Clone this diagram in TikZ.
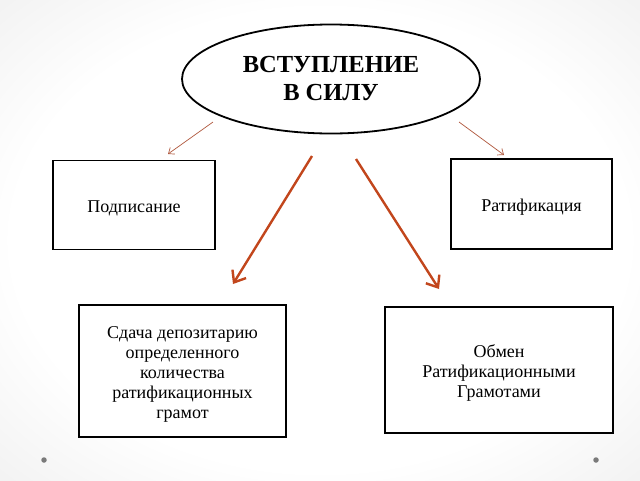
\documentclass[tikz,border=0pt]{standalone}
\usepackage{fontspec}
\setmainfont{Liberation Serif}
\usetikzlibrary{shapes.geometric,arrows.meta}
\definecolor{thinred}{HTML}{B0583E}
\definecolor{thickred}{HTML}{C2461C}
\definecolor{dotgray}{HTML}{7A7A7A}
\pgfdeclareradialshading{bgshade}{\pgfpoint{0bp}{0bp}}{color(0bp)=(white); color(24bp)=(white); color(45bp)=(black!9); color(72bp)=(black!19)}
\tikzset{
  box/.style={draw=black,line width=1.8pt,fill=white,align=center,font=\fontsize{18}{20}\selectfont,inner sep=0pt},
  ell/.style={ellipse,draw=black,line width=1.8pt,fill=white,align=center,inner sep=0pt,font=\bfseries\fontsize{24.5}{28}\selectfont},
  thinarrow/.style={draw=thinred,line width=0.7pt,-{Straight Barb[length=5pt,width=8pt]}},
  thickarrow/.style={draw=thickred,line width=2.4pt,-{Straight Barb[length=10pt,width=16pt,line width=2.4pt]}},
  dot/.style={circle,fill=dotgray,inner sep=0pt,minimum size=5.5pt}
}
\newcommand{\dn}{\rule{0pt}{19pt}}
\begin{document}
\begin{tikzpicture}[x=1pt,y=-1pt]
\useasboundingbox (0,0) rectangle (640,480);
\shade[shading=bgshade] (0,0) rectangle (640,480);
\node[ell,minimum width=298pt,minimum height=109pt] (e) at (331,79) {ВСТУПЛЕНИЕ\\В СИЛУ};
\node[box,minimum width=162pt,minimum height=89pt] (p) at (134,205) {\dn Подписание};
\node[box,minimum width=161pt,minimum height=90pt] (r) at (531.5,204) {\dn Ратификация};
\node[box,minimum width=207pt,minimum height=132pt] (s) at (182.5,371) {\dn Сдача депозитарию\\определенного\\количества\\ратификационных\\грамот};
\node[box,minimum width=228pt,minimum height=126pt] (o) at (499,370) {\dn Обмен\\Ратификационными\\Грамотами};
\coordinate (a1s) at (213,122); \coordinate (a1e) at (168,154);
\coordinate (a2s) at (459,122); \coordinate (a2e) at (504,155);
\coordinate (a3s) at (312,156); \coordinate (a3e) at (233,284);
\coordinate (a4s) at (356,159); \coordinate (a4e) at (439,289);
\draw[thinarrow] (a1s) -- (a1e);
\draw[thinarrow] (a2s) -- (a2e);
\draw[thickarrow] (a3s) -- (a3e);
\draw[thickarrow] (a4s) -- (a4e);
\node[dot] (d1) at (44,460) {};
\node[dot] (d2) at (596,460) {};
\end{tikzpicture}
\end{document}
